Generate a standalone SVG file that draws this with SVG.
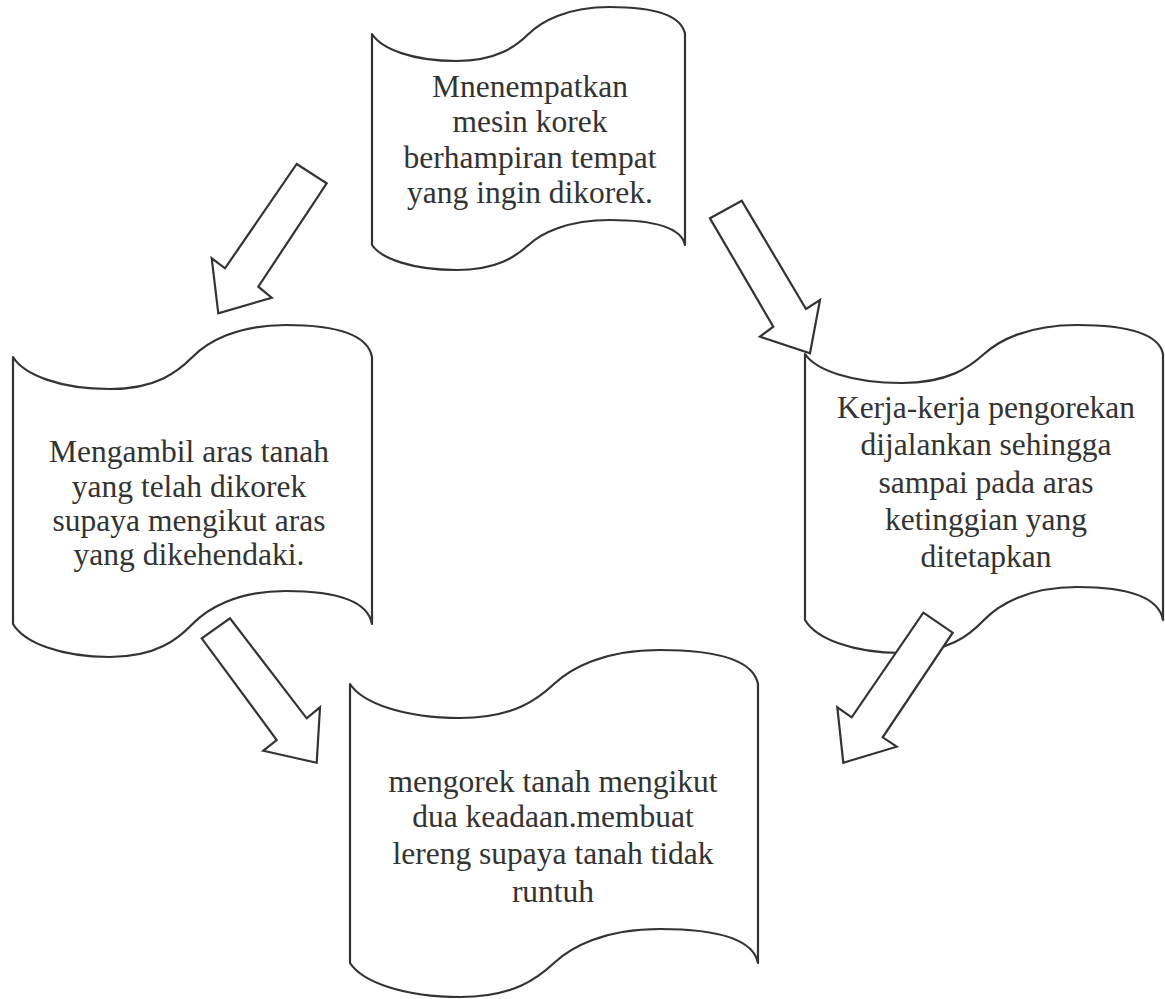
<svg xmlns="http://www.w3.org/2000/svg" width="1165" height="999" viewBox="0 0 1165 999">
<style>
.shape{fill:#fff;stroke:#333;stroke-width:2.2;stroke-linejoin:round}
.arrow{fill:#fff;stroke:#333;stroke-width:2.2;stroke-linejoin:miter}
text{font-family:'Liberation Serif','Times New Roman','DejaVu Serif',serif;font-size:31.5px;fill:#333;text-anchor:middle}
</style>
<rect width="1165" height="999" fill="#fff"/>
<g id="node-top">
<path class="shape" d="M372,34 C381.4,48.9 412.7,61 456.5,61 C497.2,61 516,46.2 528.5,34 C541,21.9 566.1,7 609.9,7 C660,7 681.9,17.8 685,34 V245 C681.9,230 660,220 609.9,220 C566.1,220 541,233.75 528.5,245 C516,256.25 497.2,270 456.5,270 C412.7,270 381.4,258.75 372,245 Z"/>
<text x="530" y="97">Mnenempatkan</text>
<text x="530" y="132">mesin korek</text>
<text x="530" y="168">berhampiran tempat</text>
<text x="530" y="203">yang ingin dikorek.</text>
</g>
<g id="node-left">
<path class="shape" d="M13,357 C23.8,374.6 59.7,389 109.9,389 C156.6,389 178.1,371.4 192.5,357 C206.9,342.6 235.6,325 285.8,325 C343.3,325 368.4,337.8 372,357 V624 C368.4,604.2 343.3,591 285.8,591 C235.6,591 206.9,609.2 192.5,624 C178.1,638.9 156.6,657 109.9,657 C59.7,657 23.8,642.2 13,624 Z"/>
<text x="189" y="462">Mengambil aras tanah</text>
<text x="189" y="497">yang telah dikorek</text>
<text x="189" y="531">supaya mengikut aras</text>
<text x="189" y="565">yang dikehendaki.</text>
</g>
<g id="node-right">
<path class="shape" d="M805,354 C815.7,370 851.5,383 901.7,383 C948.2,383 969.7,367 984,354 C998.3,341 1027,325 1077.1,325 C1134.4,325 1159.4,336.6 1163,354 V620 C1159.4,600.2 1134.4,587 1077.1,587 C1027,587 998.3,605.2 984,620 C969.7,634.9 948.2,653 901.7,653 C851.5,653 815.7,638.2 805,620 Z"/>
<text x="986" y="418">Kerja-kerja pengorekan</text>
<text x="986" y="455">dijalankan sehingga</text>
<text x="986" y="493">sampai pada aras</text>
<text x="986" y="530">ketinggian yang</text>
<text x="986" y="567">ditetapkan</text>
</g>
<g id="node-bottom">
<path class="shape" d="M350,684 C362.2,702.7 403,718 460.2,718 C513.2,718 537.7,699.3 554,684 C570.3,668.7 603,650 660.1,650 C725.4,650 753.9,663.6 758,684 V963 C753.9,942.6 725.4,929 660.1,929 C603,929 570.3,947.7 554,963 C537.7,978.3 513.2,997 460.2,997 C403,997 362.2,981.7 350,963 Z"/>
<text x="553" y="792">mengorek tanah mengikut</text>
<text x="553" y="827">dua keadaan.membuat</text>
<text x="553" y="864">lereng supaya tanah tidak</text>
<text x="553" y="902">runtuh</text>
</g>
<g id="connectors">
<polygon class="arrow" points="296.7,164 326.7,183.3 258.3,286.7 271.7,297.7 218.3,313.3 211.7,258.3 225,268.3"/>
<polygon class="arrow" points="710,218.3 741.7,200.7 806,309 820,300 810,353.3 760,336.7 773.3,326.7"/>
<polygon class="arrow" points="201.7,638.3 230,618.3 306.7,718.3 320,707.3 316.7,762.7 263.3,750.7 276.7,740"/>
<polygon class="arrow" points="923.3,612.7 952.7,632.7 882.7,737.3 896.7,746.7 843.3,762.7 837.3,707.3 851.7,717.3"/>
</g>
</svg>
